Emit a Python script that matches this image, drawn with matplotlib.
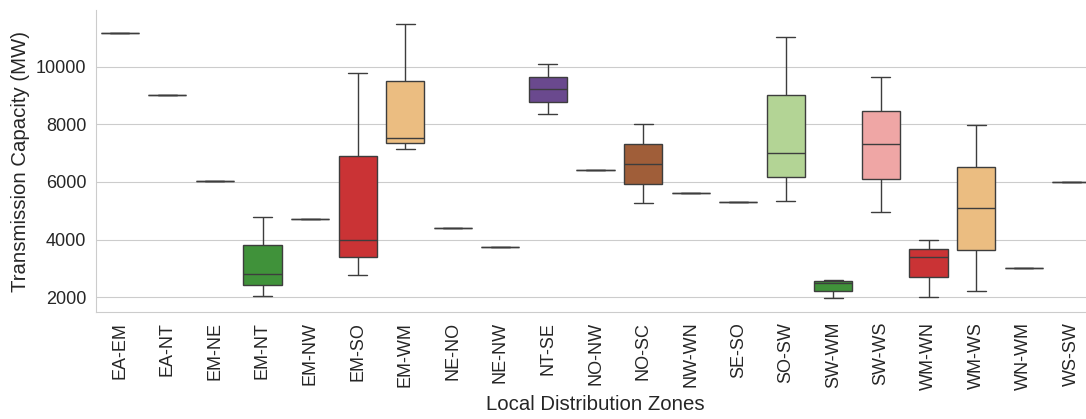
import matplotlib

matplotlib.use("Agg")
import matplotlib.pyplot as plt
import pandas as pd
import seaborn as sns

# transmission capacity samples (MW) per zone pair
zones = [
    "EA-EM", "EA-NT", "EM-NE", "EM-NT", "EM-NW", "EM-SO", "EM-WM",
    "NE-NO", "NE-NW", "NT-SE", "NO-NW", "NO-SC", "NW-WN", "SE-SO",
    "SO-SW", "SW-WM", "SW-WS", "WM-WN", "WM-WS", "WN-WM", "WS-SW",
]
capacity = {
    "EA-EM": [11180],
    "EA-NT": [9010],
    "EM-NE": [6050],
    "EM-NT": [2030, 2410, 2800, 3810, 4800],
    "EM-NW": [4730],
    "EM-SO": [2780, 3390, 4000, 6890, 9790],
    "EM-WM": [7160, 7360, 7540, 9510, 11490],
    "NE-NO": [4420],
    "NE-NW": [3750],
    "NT-SE": [8370, 8790, 9220, 9650, 10080],
    "NO-NW": [6430],
    "NO-SC": [5260, 5940, 6630, 7310, 8000],
    "NW-WN": [5620],
    "SE-SO": [5300],
    "SO-SW": [5350, 6170, 7000, 9020, 11030],
    "SW-WM": [1965, 2230, 2500, 2556, 2610],
    "SW-WS": [4960, 6115, 7300, 8460, 9630],
    "WM-WN": [2010, 2695, 3390, 3685, 3995],
    "WM-WS": [2220, 3645, 5080, 6520, 7960],
    "WN-WM": [3000],
    "WS-SW": [6000],
}

rows = [(z, v) for z in zones for v in capacity[z]]
df = pd.DataFrame(rows, columns=["zone", "capacity"])

sns.set_style("whitegrid")
plt.rcParams["font.family"] = ["Liberation Sans", "DejaVu Sans"]

fig = plt.figure(figsize=(10.86, 4.19), dpi=100)
ax = fig.add_axes([96 / 1086, 107 / 419, 999 / 1086, 302 / 419])

sns.boxplot(
    data=df, x="zone", y="capacity", hue="zone", order=zones,
    palette="Paired", legend=False, ax=ax, linewidth=1.0,
)
sns.despine(ax=ax)
ax.xaxis.grid(False)

ax.set_xlabel("Local Distribution Zones", fontsize=14.7)
ax.set_ylabel("Transmission Capacity (MW)", fontsize=14.7)
ax.tick_params(axis="x", labelrotation=90, labelsize=13)
ax.tick_params(axis="y", labelsize=13)

fig.savefig("out.png", dpi=100)
